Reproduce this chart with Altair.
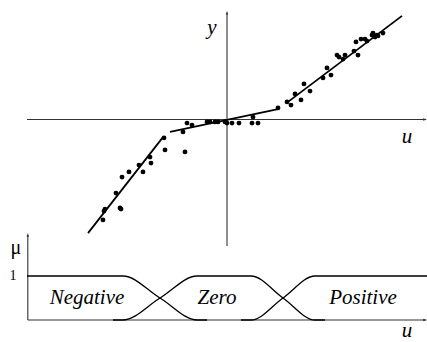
import altair as alt
import pandas as pd

# Measured samples (u, y)
pt_u = [-3.10, -3.075, -3.05, -2.65, -2.675, -2.775, -2.625, -2.45, -2.2, -2.1,
        -1.925, -1.9, -1.575, -1.55, -1.1, -1.05, -1.0, -0.875, -0.5, -0.425,
        -0.3, -0.225, -0.05, 0.0, 0.125, 0.3, 0.65, 0.625, 0.775, 1.275,
        1.5, 1.6, 1.7, 1.85, 1.925, 2.075, 2.4, 2.5, 2.6, 2.75,
        2.8, 2.9, 2.95, 3.175, 3.275, 3.225, 3.35, 3.45, 3.5, 3.625,
        3.65, 3.7, 3.75, 3.775, 3.9]
pt_y = [-2.51, -2.29, -2.24, -2.24, -2.21, -1.84, -1.44, -1.31, -1.14, -1.31,
        -0.94, -1.09, -0.46, -0.76, -0.31, -0.81, -0.09, -0.14, -0.06, -0.06,
        -0.06, -0.06, -0.06, -0.09, -0.09, -0.09, 0.06, -0.09, -0.09, 0.29,
        0.44, 0.36, 0.64, 0.49, 0.89, 0.71, 1.04, 1.29, 1.11, 1.61,
        1.56, 1.51, 1.61, 1.71, 1.61, 1.94, 2.01, 2.01, 1.96, 2.11,
        2.16, 2.06, 2.11, 2.09, 2.16]

# Piecewise-linear fit, one row per segment
seg_u0 = [-3.475, -1.425, 1.525]
seg_y0 = [-2.84, -0.31, 0.44]
seg_u1 = [-1.6, 1.275, 4.375]
seg_y1 = [-0.44, 0.26, 2.59]

# Membership function knots
neg_u = [-5.0, -2.6, -1.675, -0.75, -0.5]
neg_mu = [1, 1, 0.5, 0, 0]
zero_u = [-2.85, -2.6, -1.675, -0.75, 0.6, 1.4, 2.2, 2.45]
zero_mu = [0, 0, 0.5, 1, 1, 0.5, 0, 0]
pos_u = [0.35, 0.6, 1.4, 2.2, 5.0]
pos_mu = [0, 0, 0.5, 1, 1]

set_names = ["Negative", "Zero", "Positive"]
set_label_u = [-3.5, -0.25, 3.4]
set_label_mu = [0.5, 0.5, 0.5]

W, H = 427, 342
X = alt.Scale(domain=[-5.675, 5.0], nice=False, zero=False)
YU = alt.Scale(domain=[-5.5625, 2.9875], nice=False, zero=False)
YM = alt.Scale(domain=[-0.5, 320 / 44], nice=False, zero=False)

AX_COLOR = "#333333"
FONT = "Liberation Serif"
ARROW_UP = "M0,0L0.38,1.2L-0.38,1.2Z"
ARROW_RIGHT = "M0,0L-1.2,0.38L-1.2,-0.38Z"


def xe(field):
    return alt.X(field, type="quantitative", scale=X, axis=None)


def yu(field):
    return alt.Y(field, type="quantitative", scale=YU, axis=None)


def ym(field):
    return alt.Y(field, type="quantitative", scale=YM, axis=None)


# ---------- upper panel: data, fit and axes ----------
points = pd.DataFrame({"u": pt_u, "y": pt_y})
segs = pd.DataFrame({"u0": seg_u0, "y0": seg_y0, "u1": seg_u1, "y1": seg_y1})

up_h = pd.DataFrame({"x": [-5.0], "x2": [4.975], "y": [0.0]})
up_v = pd.DataFrame({"x": [0.0], "y": [-3.16], "y2": [2.66]})
up_arrow_r = pd.DataFrame({"x": [5.0], "y": [0.0]})
up_arrow_u = pd.DataFrame({"x": [0.0], "y": [2.72]})
up_labels = pd.DataFrame({"x": [-0.375, 4.5], "y": [2.29, -0.44], "t": ["y", "u"]})

u_axis_h = alt.Chart(up_h).mark_rule(color=AX_COLOR, strokeWidth=1.1).encode(
    x=xe("x"), x2="x2", y=yu("y"))
u_axis_v = alt.Chart(up_v).mark_rule(color=AX_COLOR, strokeWidth=1.1).encode(
    x=xe("x"), y=yu("y"), y2="y2")
u_arr_r = alt.Chart(up_arrow_r).mark_point(
    shape=ARROW_RIGHT, filled=True, color=AX_COLOR, size=40, opacity=1).encode(
    x=xe("x"), y=yu("y"))
u_arr_u = alt.Chart(up_arrow_u).mark_point(
    shape=ARROW_UP, filled=True, color=AX_COLOR, size=40, opacity=1).encode(
    x=xe("x"), y=yu("y"))
u_text = alt.Chart(up_labels).mark_text(
    font=FONT, fontStyle="italic", fontSize=21, color="black",
    align="center", baseline="middle").encode(
    x=xe("x"), y=yu("y"), text="t:N")
fit = alt.Chart(segs).mark_rule(color="black", strokeWidth=1.8).encode(
    x=xe("u0"), y=yu("y0"), x2="u1", y2="y1")
dots = alt.Chart(points).mark_circle(color="black", size=24, opacity=1).encode(
    x=xe("u"), y=yu("y"))

upper = alt.layer(u_axis_h, u_axis_v, u_arr_r, u_arr_u, fit, dots, u_text)

# ---------- lower panel: membership functions ----------
mf = pd.DataFrame({
    "u": neg_u + zero_u + pos_u,
    "mu": neg_mu + zero_mu + pos_mu,
    "set": ["Negative"] * len(neg_u) + ["Zero"] * len(zero_u) + ["Positive"] * len(pos_u),
})
mf["k"] = range(len(mf))
lo_h = pd.DataFrame({"x": [-4.98], "x2": [4.975], "y": [0.0]})
lo_v = pd.DataFrame({"x": [-4.98], "y": [0.0], "y2": [1.93]})
lo_arrow_r = pd.DataFrame({"x": [5.0], "y": [0.0]})
lo_arrow_u = pd.DataFrame({"x": [-4.98], "y": [1.98]})
set_labels = pd.DataFrame({"x": set_label_u, "y": set_label_mu, "t": set_names})

l_axis_h = alt.Chart(lo_h).mark_rule(color=AX_COLOR, strokeWidth=1.1).encode(
    x=xe("x"), x2="x2", y=ym("y"))
l_axis_v = alt.Chart(lo_v).mark_rule(color=AX_COLOR, strokeWidth=1.1).encode(
    x=xe("x"), y=ym("y"), y2="y2")
l_arr_r = alt.Chart(lo_arrow_r).mark_point(
    shape=ARROW_RIGHT, filled=True, color=AX_COLOR, size=40, opacity=1).encode(
    x=xe("x"), y=ym("y"))
l_arr_u = alt.Chart(lo_arrow_u).mark_point(
    shape=ARROW_UP, filled=True, color=AX_COLOR, size=40, opacity=1).encode(
    x=xe("x"), y=ym("y"))
curves = alt.Chart(mf).mark_line(color="black", strokeWidth=1.3, interpolate="monotone").encode(
    x=xe("u"), y=ym("mu"), detail="set:N", order="k:Q")
set_text = alt.Chart(set_labels).mark_text(
    font=FONT, fontStyle="italic", fontSize=21, color="black",
    align="center", baseline="middle").encode(
    x=xe("x"), y=ym("y"), text="t:N")
mu_text = alt.Chart(pd.DataFrame({"x": [-5.28], "y": [1.64], "t": ["μ"]})).mark_text(
    font=FONT, fontSize=20, color="black", align="center", baseline="middle").encode(
    x=xe("x"), y=ym("y"), text="t:N")
one_text = alt.Chart(pd.DataFrame({"x": [-5.35], "y": [1.0], "t": ["1"]})).mark_text(
    font=FONT, fontSize=14, color="black", align="center", baseline="middle").encode(
    x=xe("x"), y=ym("y"), text="t:N")
u_low_text = alt.Chart(pd.DataFrame({"x": [4.5], "y": [-0.25], "t": ["u"]})).mark_text(
    font=FONT, fontStyle="italic", fontSize=21, color="black",
    align="center", baseline="middle").encode(
    x=xe("x"), y=ym("y"), text="t:N")

lower = alt.layer(l_axis_h, l_axis_v, l_arr_r, l_arr_u, curves, set_text,
                  mu_text, one_text, u_low_text)

chart = alt.layer(upper, lower).resolve_scale(y="independent").properties(
    width=W, height=H,
    autosize=alt.AutoSizeParams(type="none"),
    padding=0,
    background="white",
).configure_view(stroke=None)

chart.save("out.html", embed_options={"renderer": "svg", "actions": False})
